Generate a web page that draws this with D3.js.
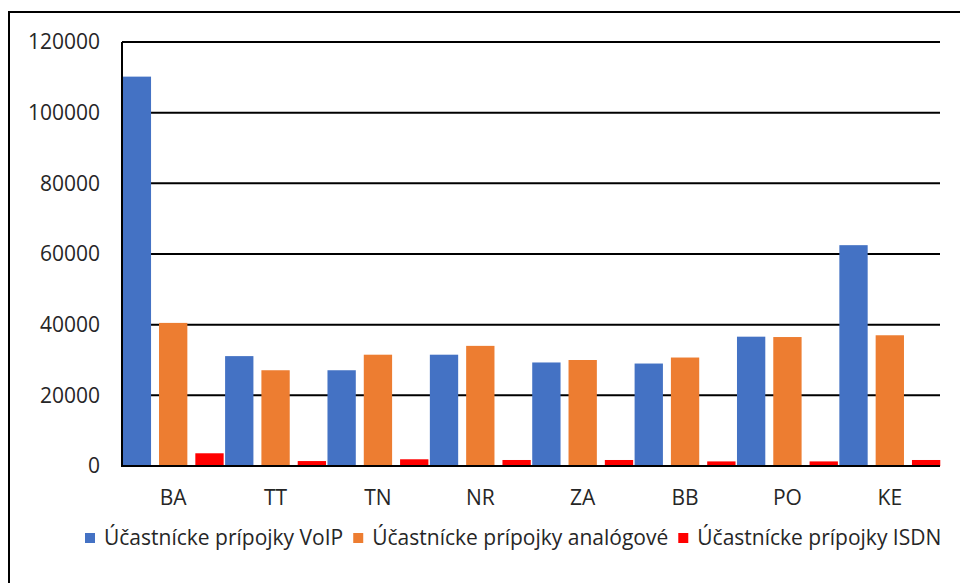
<!DOCTYPE html>
<html>
<head>
<meta charset="utf-8">
<script src="https://cdn.jsdelivr.net/npm/d3@7"></script>
<style>
  body { margin: 0; background: #fff; }
  text { font-family: "Open Sans", sans-serif; fill: #262626; }
</style>
</head>
<body>
<div id="chart"></div>
<script>
const regions = ["BA", "TT", "TN", "NR", "ZA", "BB", "PO", "KE"];
const seriesNames = [
  "Účastnícke prípojky VoIP",
  "Účastnícke prípojky analógové",
  "Účastnícke prípojky ISDN"
];
const voip = [110200, 31100, 27100, 31500, 29300, 29000, 36600, 62500];
const analog = [40500, 27100, 31500, 34000, 30000, 30700, 36500, 37000];
const isdn = [3600, 1400, 1900, 1700, 1700, 1300, 1300, 1700];
const yTicks = [0, 20000, 40000, 60000, 80000, 100000, 120000];
const colors = ["#4472C4", "#ED7D31", "#FF0000"];

const width = 960, height = 583;
const margin = { top: 42, right: 20, bottom: 117, left: 122 };
const plotW = 941 - margin.left;
const plotH = 466 - margin.top;
const fontSize = 21;

const svg = d3.select("#chart").append("svg")
  .attr("width", width)
  .attr("height", height);

// chart frame (runs off the right and bottom edge)
svg.append("rect")
  .attr("x", 9).attr("y", 12)
  .attr("width", 980).attr("height", 620)
  .attr("fill", "none")
  .attr("stroke", "#000")
  .attr("stroke-width", 2);

const g = svg.append("g")
  .attr("transform", `translate(${margin.left},${margin.top})`);

const x0 = d3.scaleBand().domain(regions).range([0, plotW]).paddingInner(0);
const x1 = d3.scaleBand().domain([0, 1, 2]).range([0, x0.bandwidth()])
  .paddingInner(0.22).paddingOuter(0.02);
const y = d3.scaleLinear().domain([0, 120000]).range([plotH, 0]);

// gridlines
g.append("g")
  .selectAll("line")
  .data(yTicks)
  .join("line")
  .attr("x1", 0).attr("x2", plotW - 1)
  .attr("y1", d => y(d)).attr("y2", d => y(d))
  .attr("stroke", "#000")
  .attr("stroke-width", 2);

// y labels
g.append("g")
  .selectAll("text")
  .data(yTicks)
  .join("text")
  .attr("x", -22)
  .attr("y", d => y(d))
  .attr("dy", "0.35em")
  .attr("text-anchor", "end")
  .attr("font-size", fontSize)
  .text(d => d);

// bars
const series = [voip, analog, isdn];
const groups = g.append("g")
  .selectAll("g")
  .data(regions)
  .join("g")
  .attr("transform", d => `translate(${x0(d)},0)`);

groups.selectAll("rect")
  .data((d, i) => series.map((s, k) => ({ k, v: s[i] })))
  .join("rect")
  .attr("x", d => x1(d.k))
  .attr("y", d => y(d.v))
  .attr("width", x1.bandwidth())
  .attr("height", d => y(0) - y(d.v))
  .attr("fill", d => colors[d.k]);

// axis lines
g.append("line")
  .attr("x1", 0).attr("x2", 0)
  .attr("y1", 0).attr("y2", plotH + 1)
  .attr("stroke", "#000").attr("stroke-width", 2);
g.append("line")
  .attr("x1", 0).attr("x2", plotW - 1)
  .attr("y1", plotH).attr("y2", plotH)
  .attr("stroke", "#000").attr("stroke-width", 2);

// x labels
g.append("g")
  .selectAll("text")
  .data(regions)
  .join("text")
  .attr("x", d => x0(d) + x0.bandwidth() / 2)
  .attr("y", plotH + 39)
  .attr("text-anchor", "middle")
  .attr("font-size", fontSize)
  .text(d => d);

// legend
const legend = svg.append("g").attr("transform", "translate(85,545)");
let lx = 0;
seriesNames.forEach((name, i) => {
  const item = legend.append("g").attr("transform", `translate(${lx},0)`);
  item.append("rect")
    .attr("x", 0).attr("y", -12)
    .attr("width", 10).attr("height", 10)
    .attr("fill", colors[i]);
  const t = item.append("text")
    .attr("x", 19).attr("y", 0)
    .attr("font-size", fontSize)
    .text(name);
  lx += 19 + t.node().getComputedTextLength() + 10;
});
</script>
</body>
</html>
